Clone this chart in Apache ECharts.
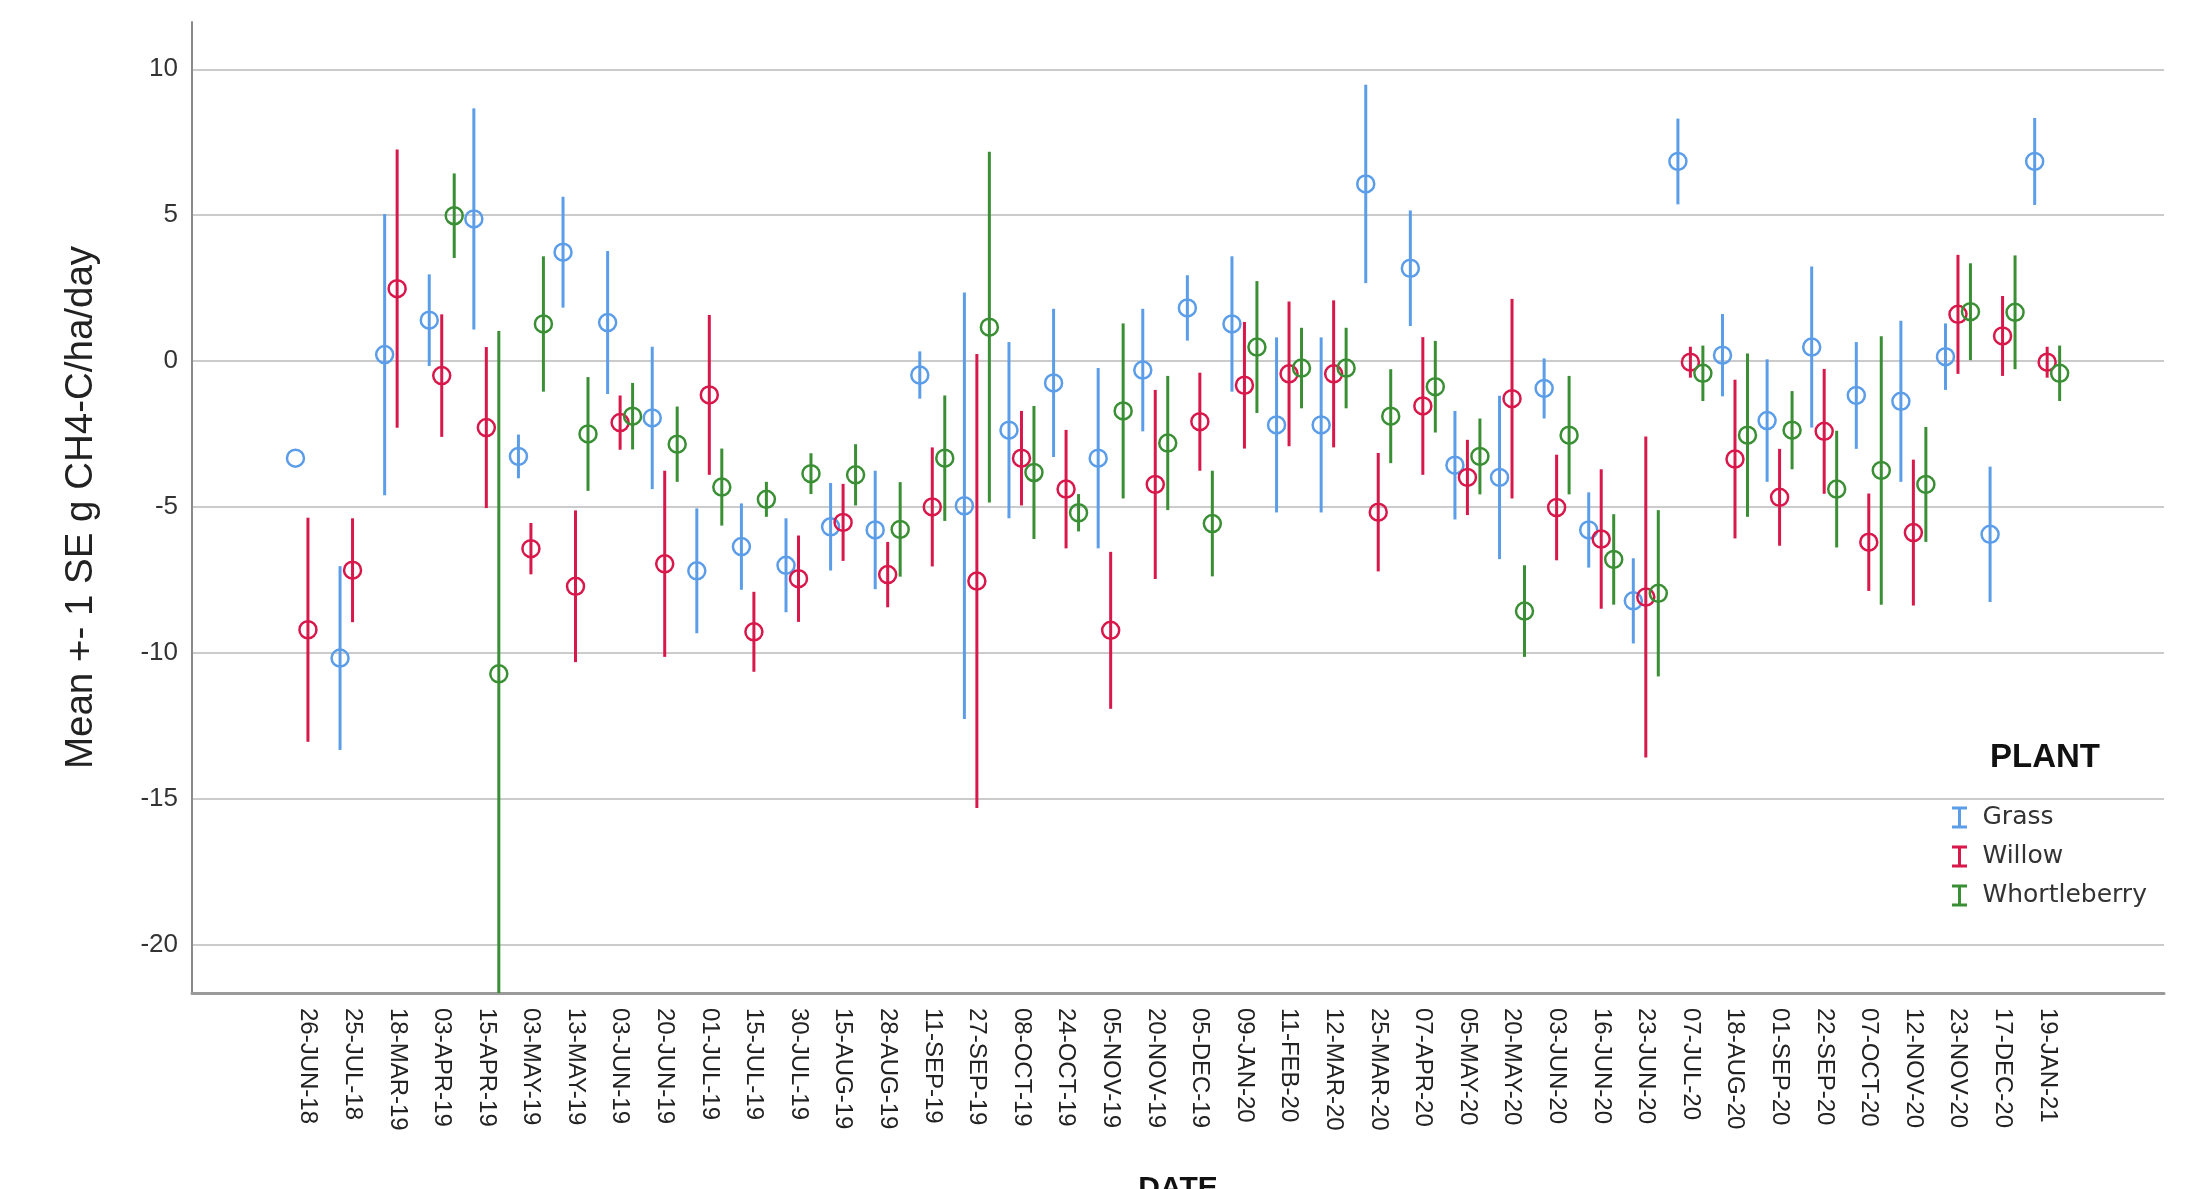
<!DOCTYPE html>
<html>
<head>
<meta charset="utf-8">
<title>Methane flux by plant</title>
<script src="https://cdn.jsdelivr.net/npm/echarts@6/dist/echarts.min.js"></script>
<style>
  html, body { margin: 0; padding: 0; background: #ffffff; }
  #chart { width: 2201px; height: 1189px; }
</style>
</head>
<body>
<div id="chart"></div>
<script>
// Sampling dates (category axis)
const dates = [
  '26-JUN-18', '25-JUL-18', '18-MAR-19', '03-APR-19', '15-APR-19', '03-MAY-19', '13-MAY-19',
  '03-JUN-19', '20-JUN-19', '01-JUL-19', '15-JUL-19', '30-JUL-19', '15-AUG-19', '28-AUG-19',
  '11-SEP-19', '27-SEP-19', '08-OCT-19', '24-OCT-19', '05-NOV-19', '20-NOV-19', '05-DEC-19',
  '09-JAN-20', '11-FEB-20', '12-MAR-20', '25-MAR-20', '07-APR-20', '05-MAY-20', '20-MAY-20',
  '03-JUN-20', '16-JUN-20', '23-JUN-20', '07-JUL-20', '18-AUG-20', '01-SEP-20', '22-SEP-20',
  '07-OCT-20', '12-NOV-20', '23-NOV-20', '17-DEC-20', '19-JAN-21'
];

// Mean flux (g CH4-C/ha/day) and one standard error, per plant and date
const grassMean = [
  -3.33, -10.18, 0.22, 1.40, 4.87, -3.27, 3.73, 1.32, -1.95, -7.19,
  -6.36, -7.00, -5.68, -5.79, -0.48, -4.96, -2.37, -0.75, -3.33, -0.31,
  1.82, 1.27, -2.19, -2.19, 6.07, 3.18, -3.57, -3.99, -0.94, -5.79,
  -8.22, 6.84, 0.20, -2.04, 0.48, -1.18, -1.38, 0.15, -5.94, 6.84
];
const grassSE = [
  null, 3.15, 4.82, 1.57, 3.79, 0.75, 1.90, 2.45, 2.44, 2.14,
  1.48, 1.61, 1.50, 2.03, 0.81, 7.31, 3.02, 2.54, 3.09, 2.10,
  1.12, 2.32, 3.00, 3.00, 3.40, 1.98, 1.86, 2.80, 1.03, 1.29,
  1.46, 1.47, 1.41, 2.10, 2.76, 1.83, 2.76, 1.14, 2.32, 1.49
];
const willowMean = [
  -9.21, -7.17, 2.48, -0.50, -2.28, -6.43, -7.72, -2.11, -6.95, -1.16,
  -9.28, -7.46, -5.53, -7.32, -5.00, -7.54, -3.33, -4.39, -9.23, -4.23,
  -2.08, -0.83, -0.44, -0.44, -5.18, -1.54, -3.99, -1.29, -5.02, -6.10,
  -8.09, -0.04, -3.36, -4.67, -2.41, -6.21, -5.88, 1.60, 0.86, -0.04
];
const willowSE = [
  3.84, 1.78, 4.77, 2.10, 2.76, 0.88, 2.60, 0.93, 3.19, 2.74,
  1.37, 1.48, 1.32, 1.12, 2.04, 7.78, 1.62, 2.03, 2.69, 3.24,
  1.68, 2.17, 2.48, 2.52, 2.03, 2.36, 1.29, 3.42, 1.81, 2.39,
  5.50, 0.53, 2.72, 1.66, 2.14, 1.67, 2.50, 2.04, 1.37, 0.53
];
const whortMean = [
  null, null, null, 4.98, -10.72, 1.27, -2.50, -1.89, -2.85, -4.32,
  -4.74, -3.86, -3.90, -5.77, -3.33, 1.16, -3.82, -5.20, -1.71, -2.81,
  -5.57, 0.48, -0.24, -0.24, -1.89, -0.88, -3.27, -8.57, -2.54, -6.80,
  -7.96, -0.42, -2.54, -2.37, -4.39, -3.75, -4.23, 1.69, 1.67, -0.42
];
const whortSE = [
  null, null, null, 1.45, 11.75, 2.32, 1.95, 1.14, 1.29, 1.32,
  0.60, 0.70, 1.05, 1.62, 2.15, 6.01, 2.28, 0.64, 3.00, 2.30,
  1.81, 2.26, 1.38, 1.38, 1.61, 1.57, 1.30, 1.57, 2.03, 1.55,
  2.85, 0.95, 2.80, 1.34, 2.00, 4.60, 1.97, 1.66, 1.95, 0.95
];

// Value-axis tick labels
const yTicks = [-20, -15, -10, -5, 0, 5, 10];

const plants = [
  { name: 'Grass',        color: '#5b9de8', mean: grassMean,  se: grassSE,  offset: -0.28 },
  { name: 'Willow',       color: '#d8174a', mean: willowMean, se: willowSE, offset: 0 },
  { name: 'Whortleberry', color: '#3a8f35', mean: whortMean,  se: whortSE,  offset: 0.28 }
];

function toItems(mean, se) {
  const items = [];
  mean.forEach((m, i) => {
    if (m !== null) items.push([i, m, se[i] === null ? NaN : se[i]]);
  });
  return items;
}

// Error bar (mean +- 1 SE) with a hollow ring at the mean
function errorBarRenderer(color, offset) {
  return function (params, api) {
    const x = api.value(0) + offset;
    const mean = api.value(1);
    const se = api.value(2);
    const center = api.coord([x, mean]);
    const children = [];
    if (!isNaN(se) && se > 0) {
      const hi = api.coord([x, mean + se]);
      const lo = api.coord([x, mean - se]);
      children.push({
        type: 'line',
        shape: { x1: hi[0], y1: hi[1], x2: lo[0], y2: lo[1] },
        style: { stroke: color, lineWidth: 3 }
      });
    }
    children.push({
      type: 'circle',
      shape: { cx: center[0], cy: center[1], r: 8.5 },
      style: { fill: 'none', stroke: color, lineWidth: 2.5 }
    });
    return { type: 'group', children: children };
  };
}

const chart = echarts.init(document.getElementById('chart'), null, { renderer: 'canvas' });

chart.setOption({
  backgroundColor: '#ffffff',
  animation: false,
  title: {
    text: 'PLANT',
    left: 1990,
    top: 741,
    padding: 0,
    textStyle: { fontFamily: 'Liberation Sans', fontSize: 33, fontWeight: 'bold', color: '#111' }
  },
  legend: {
    orient: 'vertical',
    left: 1952,
    top: 805,
    padding: 0,
    itemWidth: 36,
    itemHeight: 22,
    itemGap: 14,
    icon: 'path://M0,0H15V3H9V19H15V22H0V19H6V3H0Z',
    textStyle: { fontFamily: 'DejaVu Sans', fontSize: 25, color: '#333' },
    data: plants.map(p => p.name)
  },
  grid: { left: 192, right: 37, top: 22, bottom: 196, outerBoundsMode: 'none' },
  xAxis: {
    type: 'value',
    min: -2.6,
    max: 41.62,
    name: 'DATE',
    nameLocation: 'middle',
    nameGap: 181,
    nameTextStyle: { fontFamily: 'Liberation Sans', fontSize: 30, fontWeight: 'bold', color: '#111' },
    axisLine: { show: true, onZero: false, lineStyle: { color: '#9a9a9a', width: 3 } },
    axisTick: { show: false },
    splitLine: { show: false },
    axisLabel: {
      customValues: dates.map((d, i) => i),
      formatter: v => dates[Math.round(v)] || '',
      rotate: -90,
      margin: 15,
      fontFamily: 'Liberation Sans',
      fontSize: 24,
      color: '#222'
    }
  },
  yAxis: {
    type: 'value',
    min: -21.66,
    max: 11.62,
    name: 'Mean +- 1 SE g CH4-C/ha/day',
    nameLocation: 'middle',
    nameGap: 91,
    nameTextStyle: { fontFamily: 'Liberation Sans', fontSize: 38.5, color: '#222' },
    axisLine: { show: true, onZero: false, lineStyle: { color: '#8a8a8a', width: 2 } },
    axisTick: { show: false },
    splitLine: {
      show: true,
      showMinLine: false,
      showMaxLine: false,
      lineStyle: { color: '#cbcbcb', width: 2 }
    },
    axisLabel: {
      customValues: yTicks,
      margin: 14,
      fontFamily: 'Liberation Sans',
      fontSize: 26,
      color: '#333'
    }
  },
  series: plants.map(p => ({
    type: 'custom',
    name: p.name,
    clip: true,
    itemStyle: { color: p.color },
    encode: { x: 0, y: 1 },
    data: toItems(p.mean, p.se),
    renderItem: errorBarRenderer(p.color, p.offset)
  }))
});
</script>
</body>
</html>
